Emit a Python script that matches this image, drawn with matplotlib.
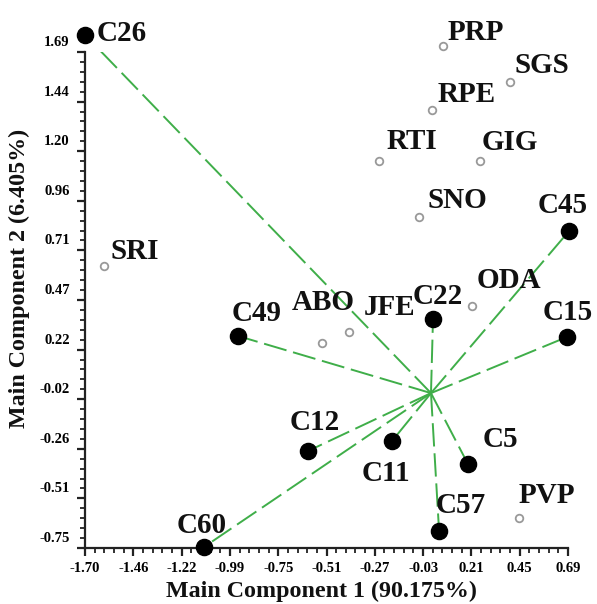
import numpy as np
import matplotlib
matplotlib.use('Agg')
import matplotlib.pyplot as plt
import matplotlib.ticker as ticker
from matplotlib.transforms import ScaledTranslation

# traits (vectors) - black dots
trait_names = ['C26', 'C45', 'C15', 'C22', 'C49', 'C12', 'C11', 'C5', 'C57', 'C60']
trait_x = [-1.700, 0.695, 0.685, 0.022, -0.943, -0.597, -0.181, 0.195, 0.052, -1.111]
trait_y = [1.774, 0.809, 0.288, 0.377, 0.293, -0.273, -0.224, -0.337, -0.666, -0.745]

# genotypes - open gray circles
geno_names = ['SRI', 'PRP', 'SGS', 'RPE', 'RTI', 'GIG', 'SNO', 'ODA', 'JFE', 'ABO', 'PVP']
geno_x = [-1.606, 0.071, 0.403, 0.017, -0.245, 0.255, -0.047, 0.215, -0.394, -0.527, 0.448]
geno_y = [0.637, 1.720, 1.542, 1.405, 1.154, 1.154, 0.878, 0.440, 0.313, 0.258, -0.602]

origin = (0.012, 0.012)

x_ticklabels = ['-1.70', '-1.46', '-1.22', '-0.99', '-0.75', '-0.51', '-0.27', '-0.03', '0.21', '0.45', '0.69']
y_ticklabels = ['-0.75', '-0.51', '-0.26', '-0.02', '0.22', '0.47', '0.71', '0.96', '1.20', '1.44', '1.69']

# label offsets in pixels (dx, dy) from the point, left/baseline anchored
label_offsets = {
    'C26': (12, -6), 'C45': (-31, 18), 'C15': (-24, 17), 'C22': (-20, 15),
    'C49': (-6, 15), 'C12': (-18, 21), 'C11': (-30, -40), 'C5': (15, 17),
    'C57': (-3, 18), 'C60': (-27, 14),
    'SRI': (7, 7), 'PRP': (5, 6), 'SGS': (5, 9), 'RPE': (6, 8), 'RTI': (8, 12),
    'GIG': (2, 11), 'SNO': (8, 9), 'ODA': (5, 18), 'JFE': (15, 17),
    'ABO': (-30, 33), 'PVP': (-1, 15),
}

plt.rcParams['font.family'] = ['Liberation Serif', 'DejaVu Serif']
plt.rcParams['font.weight'] = 'bold'

fig = plt.figure(figsize=(5.97, 6.04), dpi=100)
ax = fig.add_axes([85 / 597, 56 / 604, 483 / 597, 496 / 604])

green = '#3fae49'
for x, y in zip(trait_x, trait_y):
    ax.plot([origin[0], x], [origin[1], y], color=green, lw=1.4,
            dashes=(12, 3.5), zorder=2)

ax.scatter(trait_x, trait_y, s=135, color='black', zorder=4, clip_on=False)
ax.scatter(geno_x, geno_y, s=30, facecolor='white', edgecolor='#999999',
           linewidth=1.3, zorder=3, clip_on=False)

def put_label(name, x, y):
    dx, dy = label_offsets[name]
    ax.annotate(name, (x, y), xytext=(dx * 0.72, dy * 0.72), textcoords='offset points',
                ha='left', va='baseline', fontsize=21, fontweight='bold',
                color='#111111', annotation_clip=False, zorder=5)

for n, x, y in zip(trait_names, trait_x, trait_y):
    put_label(n, x, y)
for n, x, y in zip(geno_names, geno_x, geno_y):
    put_label(n, x, y)

ax.set_xlim(-1.70, 0.69)
ax.set_ylim(-0.75, 1.69)
ax.set_xticks(np.linspace(-1.70, 0.69, 11))
ax.set_xticklabels(x_ticklabels)
ax.set_yticks(np.linspace(-0.75, 1.69, 11))
ax.set_yticklabels(y_ticklabels)
ax.xaxis.set_minor_locator(ticker.AutoMinorLocator(5))
ax.yaxis.set_minor_locator(ticker.AutoMinorLocator(5))

ax.spines['top'].set_visible(False)
ax.spines['right'].set_visible(False)
for s in ['left', 'bottom']:
    ax.spines[s].set_linewidth(1.6)
    ax.spines[s].set_color('#222222')

ax.tick_params(which='major', length=6, width=1.6, color='#222222', labelsize=10.5, pad=4)
ax.tick_params(which='minor', length=3.5, width=1.3, color='#222222')
ax.tick_params(axis='y', which='major', pad=5)

# y tick labels sit a bit above their ticks in the reference
shift = ScaledTranslation(0, 11 / 100, fig.dpi_scale_trans)
for lab in ax.get_yticklabels():
    lab.set_transform(lab.get_transform() + shift)

ax.set_xlabel('Main Component 1 (90.175%)', fontsize=17.3, fontweight='bold', color='#111111')
ax.set_ylabel('Main Component 2 (6.405%)', fontsize=17.3, fontweight='bold', color='#111111',
              va='center')
ax.xaxis.set_label_coords(0.489, -0.066)
ax.yaxis.set_label_coords(-0.135, 0.544)

fig.savefig('out.png', dpi=100)
